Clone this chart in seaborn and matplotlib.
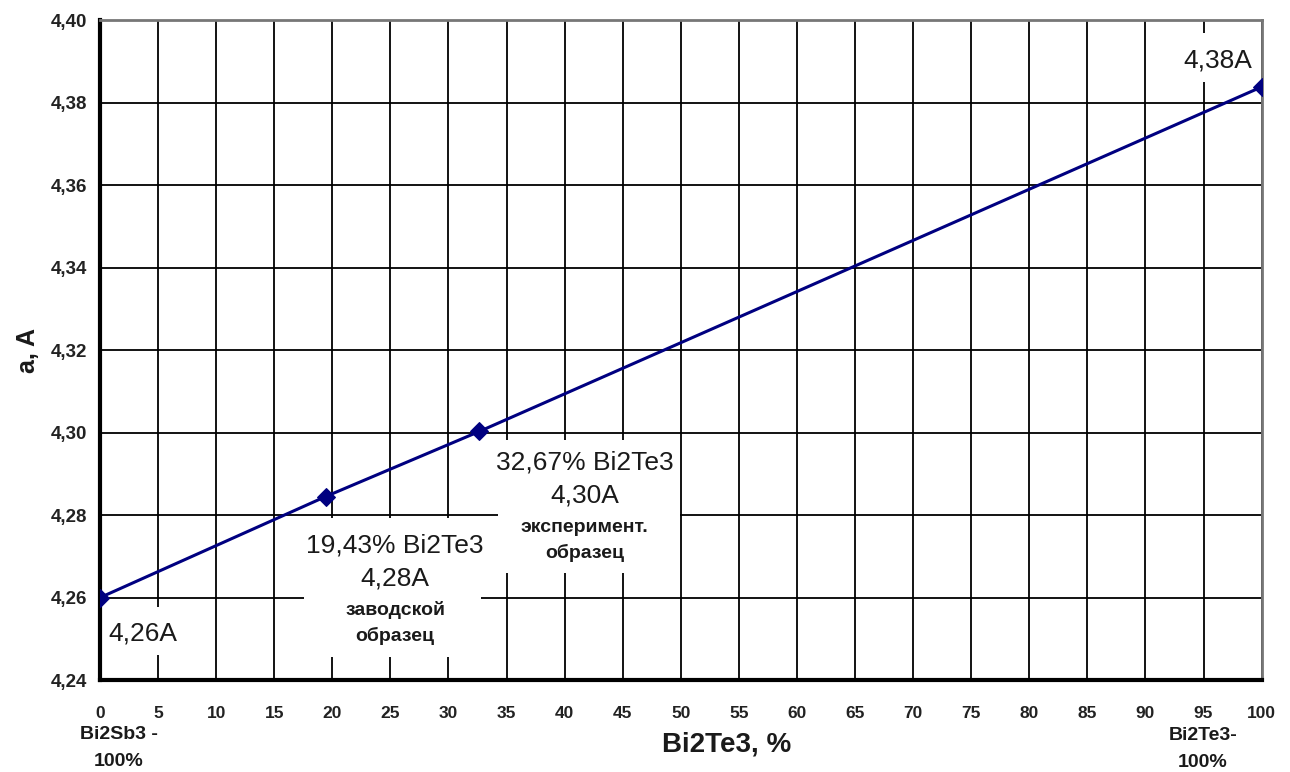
import matplotlib
matplotlib.use("Agg")
import matplotlib.pyplot as plt
import matplotlib.ticker as mticker
from matplotlib.patches import Rectangle
import pandas as pd
import seaborn as sns

sns.set_theme(style="white")
plt.rcParams['font.family'] = ['Liberation Sans', 'DejaVu Sans']

# Data
bi2te3_pct = [0, 19.43, 32.67, 100]
lattice_a = [4.260, 4.2845, 4.3003, 4.3838]
x_ticks = list(range(0, 101, 5))
y_ticks = [4.24, 4.26, 4.28, 4.30, 4.32, 4.34, 4.36, 4.38, 4.40]

df = pd.DataFrame({'Bi2Te3': bi2te3_pct, 'a': lattice_a})

fig = plt.figure(figsize=(12.9, 7.72), dpi=100)
ax = fig.add_axes([0.0775, 0.119, 0.9005, 0.855])

sns.lineplot(data=df, x='Bi2Te3', y='a', ax=ax, color='#000080', linewidth=2.2,
             marker='D', markersize=9, markeredgecolor='#000080', zorder=3)

ax.set_xlim(0, 100)
ax.set_ylim(4.24, 4.40)
ax.set_xticks(x_ticks)
ax.set_yticks(y_ticks)
ax.yaxis.set_major_formatter(mticker.FuncFormatter(lambda v, p: f"{v:.2f}".replace('.', ',')))
ax.grid(True, color='black', linewidth=1.3)
ax.set_axisbelow(True)
ax.tick_params(axis='both', direction='inout', length=9, width=2, color='black', pad=6)
ax.tick_params(axis='x', labelsize=12.5, pad=14)
ax.tick_params(axis='y', labelsize=13.5, pad=5)
for lab in ax.get_xticklabels() + ax.get_yticklabels():
    lab.set_fontweight('bold')
    lab.set_color('#222222')

for s in ['left', 'bottom']:
    ax.spines[s].set_color('black')
    ax.spines[s].set_linewidth(3)
for s in ['top', 'right']:
    ax.spines[s].set_color('#777777')
    ax.spines[s].set_linewidth(2)

ax.set_xlabel('')
ax.set_ylabel('')

# white boxes under the annotations (they cut the grid)
boxes = [(0.4, 4.2461, 6.9, 0.0116), (17.6, 4.2456, 15.2, 0.0337),
         (34.3, 4.2659, 15.6, 0.0323), (93.4, 4.3850, 6.0, 0.0118)]
for bx, by, bw, bh in boxes:
    ax.add_patch(Rectangle((bx, by), bw, bh, facecolor='white', edgecolor='none', zorder=1))

tc = '#1a1a1a'
ax.text(3.7, 4.2514, '4,26A', fontsize=19, ha='center', va='center', color=tc, zorder=4)
ax.text(96.2, 4.3903, '4,38A', fontsize=19, ha='center', va='center', color=tc, zorder=4)

ax.text(25.4, 4.2727, '19,43% Bi2Te3', fontsize=19, ha='center', va='center', color=tc, zorder=4)
ax.text(25.4, 4.2647, '4,28A', fontsize=19, ha='center', va='center', color=tc, zorder=4)
ax.text(25.4, 4.2570, 'заводской', fontsize=14, fontweight='bold', ha='center', va='center', color=tc, zorder=4)
ax.text(25.4, 4.2507, 'образец', fontsize=14, fontweight='bold', ha='center', va='center', color=tc, zorder=4)

ax.text(41.7, 4.2928, '32,67% Bi2Te3', fontsize=19, ha='center', va='center', color=tc, zorder=4)
ax.text(41.7, 4.2848, '4,30A', fontsize=19, ha='center', va='center', color=tc, zorder=4)
ax.text(41.7, 4.2771, 'эксперимент.', fontsize=14, fontweight='bold', ha='center', va='center', color=tc, zorder=4)
ax.text(41.7, 4.2708, 'образец', fontsize=14, fontweight='bold', ha='center', va='center', color=tc, zorder=4)

# axis titles and end labels
fig.text(727 / 1290, 1 - 745 / 772, 'Bi2Te3, %', fontsize=20, fontweight='bold',
         ha='center', va='center', color=tc)
fig.text(28 / 1290, 1 - 350 / 772, 'a, A', fontsize=18, fontweight='bold',
         ha='center', va='center', rotation=90, color=tc)
fig.text(119 / 1290, 1 - 748 / 772, 'Bi2Sb3 -\n100%', fontsize=14, fontweight='bold',
         ha='center', va='center', color=tc, linespacing=1.7)
fig.text(1203 / 1290, 1 - 749 / 772, 'Bi2Te3-\n100%', fontsize=14, fontweight='bold',
         ha='center', va='center', color=tc, linespacing=1.7)

fig.savefig('out.png', dpi=100, facecolor='white')
